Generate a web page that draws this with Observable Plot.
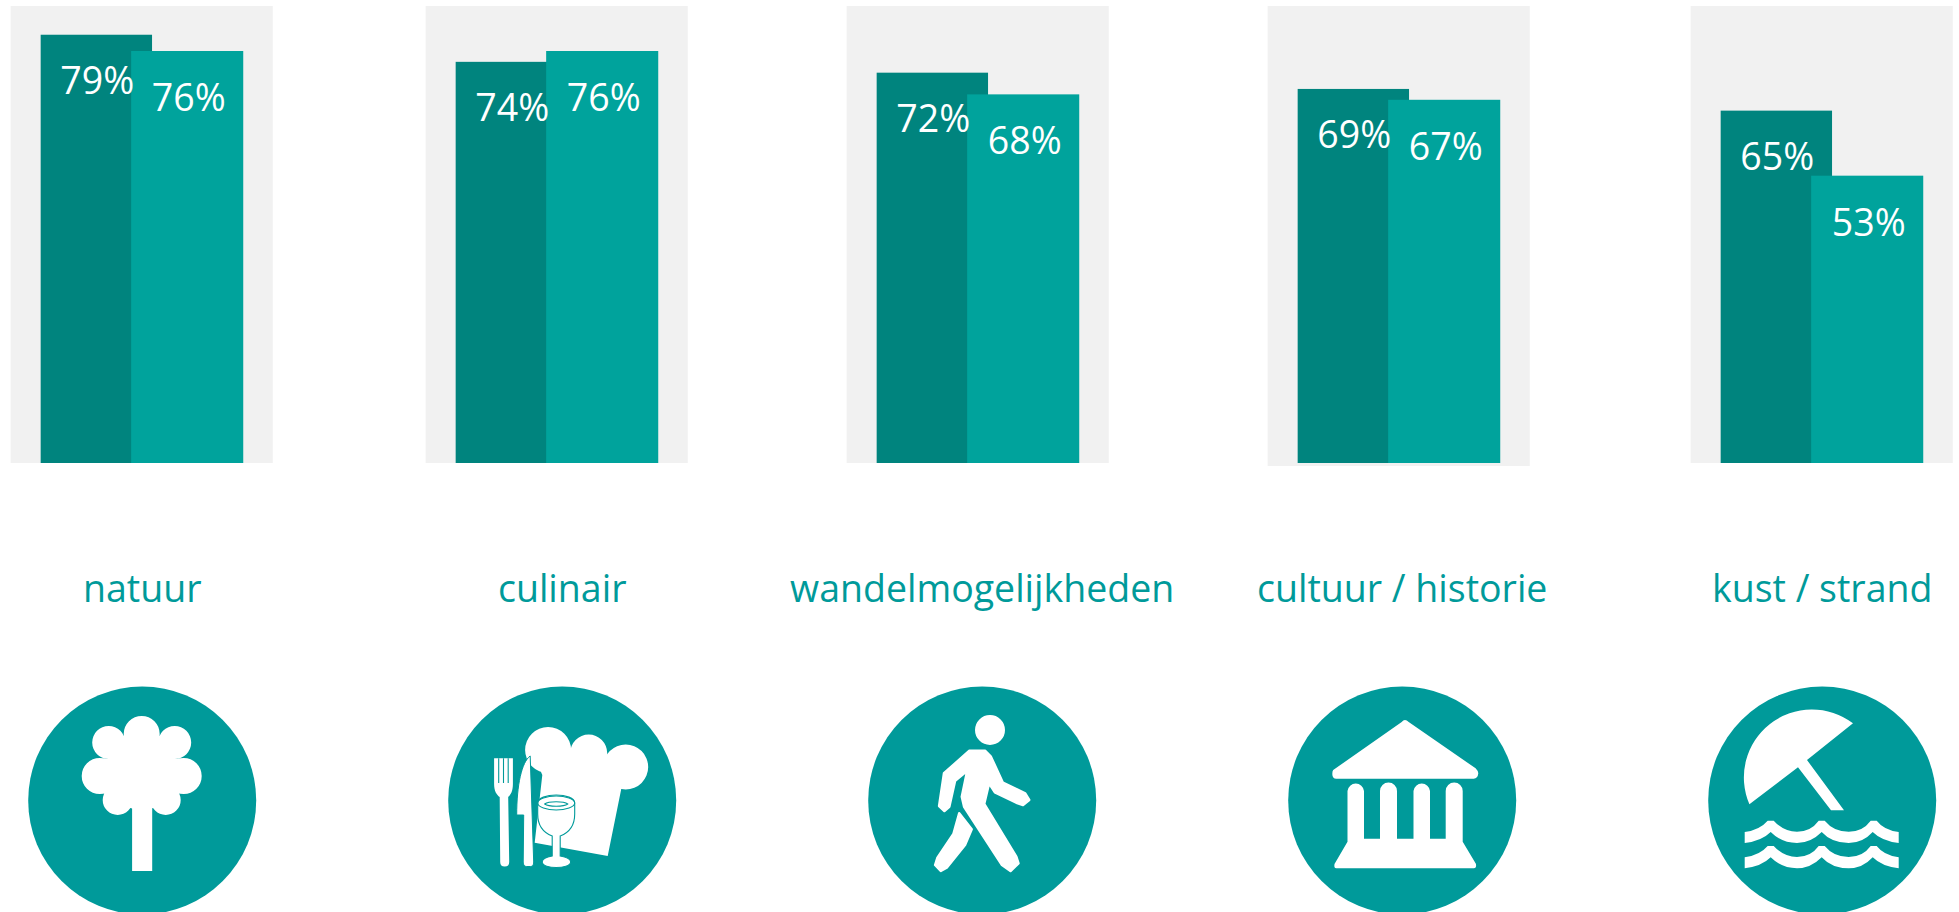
<!doctype html>
<html><head><meta charset="utf-8">
<script src="https://cdn.jsdelivr.net/npm/d3@7"></script>
<script src="https://cdn.jsdelivr.net/npm/@observablehq/plot@0.6"></script>
<style>html,body{margin:0;padding:0;background:#fff;overflow:hidden}svg{display:block}</style>
</head><body><div id="chart"></div>
<script>
const categories = ["natuur","culinair","wandelmogelijkheden","cultuur / historie","kust / strand"];
const seriesA = [79,74,72,69,65];
const seriesB = [76,76,68,67,53];
const panelTop = 84.3;
const panelNudge = [0,-5,-4,-3,0];

const TEAL = "#009a9a", DARK = "#00847e", LIGHT = "#00a39c", GRAY = "#f1f1f1";
const pct = d => d + "%";
const circles = (list) => list.map(([cx,cy,r]) => `M${cx-r},${cy}a${r},${r} 0 1,0 ${2*r},0a${r},${r} 0 1,0 ${-2*r},0Z`).join("");
const wave = o => `M-77,${32+o}Q-62,${30+o} -54,${20.7+o}H-48Q-38,${31.7+o} -24.7,${31.7+o}Q-11,${31.7+o} -3,${20.7+o}H3Q12,${31.7+o} 27,${31.7+o}Q41,${31.7+o} 49,${20.7+o}H55Q62,${30+o} 77,${32+o}V${43+o}Q60,${41+o} 51,${32+o}Q41,${43+o} 27,${43+o}Q10,${43+o} 0,${32+o}Q-11,${43+o} -24.7,${43+o}Q-40,${43+o} -51,${32+o}Q-60,${41+o} -77,${43+o}Z`;

// Pictograms, drawn around each circle's centre (not data)
const icons = [
  // tree
  [{d: circles([[0,-66,18],[-33,-57.5,16.5],[33,-57.5,16.5],[-42,-24,18],[42,-24,18],[-24,0,15],[24,0,15],[0,-28,38]]), fill:"#fff"},
   {d:"M-28,-10H28V6H-28Z", fill:"#fff"},
   {d:"M-9.6,-5H10.5V71H-9.6Z", fill:"#fff"}],
  // chef's hat, cutlery, glass
  [{d: circles([[-13.6,-50,23],[27,-47,18.5],[64,-33,22.5]]), fill:"#fff"},
   {d:"M-30,-50L-19.4,-25L-27,42.7L46,56L59.5,-10.7L64,-40L20,-50Z", fill:"#fff"},
   {d:"M-31.5,-44C-40,-38 -45,-15 -45,15H-38L-38.5,62Q-38.5,66.5 -35,66.5H-31Q-28,66.5 -28,62Z", fill:"#fff", stroke:TEAL, sw:1},
   {d:"M-67.6,-41.7H-48.8V-16C-48.8,-9 -51,-5 -53.5,-3L-52.5,62Q-52.5,66.5 -57,66.5Q-61.5,66.5 -61.5,62L-62,-3C-65,-5 -67.6,-9 -67.6,-16Z", fill:"#fff"},
   {d:"M-63,-41.7V-17M-58.2,-41.7V-17M-53.5,-41.7V-17", fill:"none", stroke:TEAL, sw:1.1},
   {d:"M-24,3V14C-24,24 -20,32 -9.5,36V56C-15,57 -19.5,59 -19.5,62C-19.5,66 -12,67.5 -5.5,67.5C1,67.5 9,66 9,62C9,59 4,57 -1.5,56V36C9,32 13,24 13,14V3C13,-2 4,-5 -5.5,-5C-15,-5 -24,-2 -24,3Z", fill:"#fff", stroke:TEAL, sw:1.1},
   {d:"M-24,3C-24,7 -15,10 -5.5,10C4,10 13,7 13,3C13,-1 4,-4 -5.5,-4C-15,-4 -24,-1 -24,3ZM-17,4C-13,1 2,1 6,4C2,7 -13,7 -17,4Z", fill:"none", stroke:TEAL, sw:1.1}],
  // walker
  [{d: circles([[8.3,-70,15]]), fill:"#fff"},
   {d:"M-12.3,-49.3L3.3,-49.3L9.2,-43.3L21.2,-17.3L43.5,-6.7L47.5,0L41.3,5L34.6,2.7L13.2,-7.7L7.4,-16.7L2.5,4L34.6,56.7L36.8,63.3L28.8,71L20.3,65L-17.6,6.7L-19.9,-3.3L-14.5,-29.3L-26.6,-19.3L-32.4,6.7L-37.3,11L-42.6,6L-37.7,-26.7Z", fill:"#fff", stroke:"#fff", sw:2.5, join:"round"},
   {d:"M-22.5,13.3L-10,29.3L-16.7,45L-34.6,67.3L-40.9,71L-46.6,65L-44.4,58L-28.3,34Z", fill:"#fff", stroke:"#fff", sw:2.5, join:"round"}],
  // temple
  [{d:"M3.3,-80Q5,-80 7,-78L73.9,-31.7Q76.6,-29 76.6,-26.7Q76,-21.3 72,-21.3H-65.4Q-69.4,-21.3 -69.4,-26Q-69.4,-29 -68.5,-30L0,-78Q1.5,-80 3.3,-80Z", fill:"#fff"},
   {d:"M-67.2,64L-54.2,41.7V-9A8.3,8.3 0 0 1 -37.7,-9V38.7H-21.7V-9A8.5,8.5 0 0 1 -4.7,-9V38.7H11.8V-9A8.3,8.3 0 0 1 28.3,-9V38.7H44V-9A8.5,8.5 0 0 1 61,-9V41.7L74.3,64Q75,68.3 72,68.3H-65.4Q-68,68.3 -67.2,64Z", fill:"#fff"}],
  // parasol and waves
  [{d:"M-72.3,4.3A68,68 0 0 1 31.3,-76.7L-14.7,-40L22.3,10.3H9.3L-23.7,-32.7Z", fill:"#fff"},
   {d: wave(0) + wave(25.3), fill:"#fff"}]
];

const table = categories.map((c,i) => ({c, i, a: seriesA[i], b: seriesB[i]}));
const panelMarks = table.flatMap(t => {
  const dx = panelNudge[t.i], one = [t];
  return [
    Plot.barY(one, {x:"c", y:() => panelTop, fill:GRAY, dx, insetBottom: t.i === 3 ? -3 : 0}),
    Plot.barY(one, {x:"c", y:"a", fill:DARK, dx, insetLeft:30, insetRight:120.7}),
    Plot.barY(one, {x:"c", y:"b", fill:LIGHT, dx, insetLeft:120.5, insetRight:29.5}),
    Plot.text(one, {x:"c", y:"a", text:d => pct(d.a), dx:dx-45, dy:47, fill:"#fff", fontSize:37.5, lineAnchor:"middle", fontFamily:"Open Sans"}),
    Plot.text(one, {x:"c", y:"b", text:d => pct(d.b), dx:dx+46.5, dy:47.5, fill:"#fff", fontSize:37.5, lineAnchor:"middle", fontFamily:"Open Sans"})
  ];
});

const iconMark = (index, scales) => {
  const g = d3.create("svg:g");
  const bw = typeof scales.x.bandwidth === "function" ? scales.x.bandwidth() : scales.x.bandwidth;
  categories.forEach((c,i) => {
    const cx = scales.x(c) + bw/2, cy = scales.y(0) + 337;
    const ig = g.append("g").attr("transform", `translate(${cx},${cy})`);
    icons[i].forEach(p => {
      ig.append("path").attr("d", p.d).attr("fill", p.fill)
        .attr("stroke", p.stroke || "none").attr("stroke-width", p.sw || 0)
        .attr("stroke-linejoin", p.join || "miter");
    });
  });
  return g.node();
};

const chart = Plot.plot({
  width:1959, height:912, margin:0,
  style:{background:"#fff", overflow:"hidden"},
  x:{type:"band", axis:null, domain:categories, range:[-68.3,2031.7], paddingInner:0.376, paddingOuter:0.188, round:false},
  y:{axis:null, domain:[0,panelTop], range:[463,6]},
  marks:[
    ...panelMarks,
    Plot.text(categories, {x:d => d, y:() => 0, text:d => d, dy:126, fill:TEAL, fontSize:37.5, lineAnchor:"middle", fontFamily:"Open Sans"}),
    Plot.dot(categories, {x:d => d, y:() => 0, dy:337, r:114, fill:TEAL, stroke:"none"}),
    iconMark
  ]
});
document.getElementById("chart").append(chart);
</script></body></html>
